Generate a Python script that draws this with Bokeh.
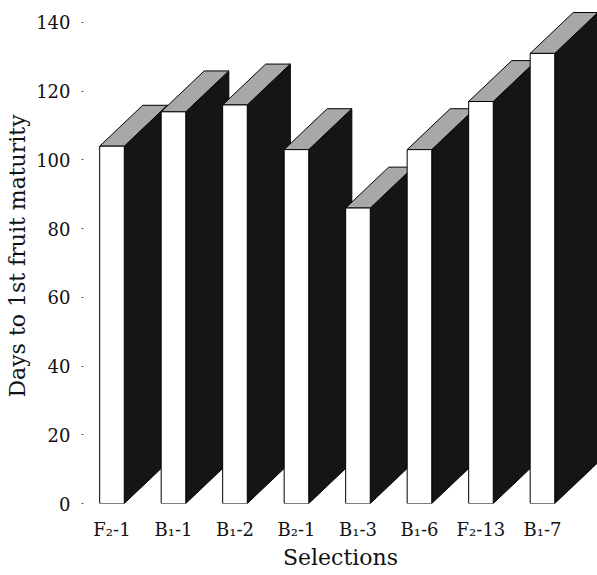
from bokeh.plotting import figure
from bokeh.models import Range1d, FixedTicker, ColumnDataSource
from bokeh.embed import file_html
from bokeh.resources import INLINE

# Days to first fruit maturity for each selection
selections = ["F\u2082-1", "B\u2081-1", "B\u2081-2", "B\u2082-1",
              "B\u2081-3", "B\u2081-6", "F\u2082-13", "B\u2081-7"]
days = [104, 114, 116, 103, 86, 103, 117, 131]
y_ticks = [0, 20, 40, 60, 80, 100, 120, 140]

# pseudo-3D geometry (data units)
half_w = 0.2      # half width of the front face
depth_x = 0.70    # horizontal depth offset
depth_y = 11.9    # vertical depth offset

xs, ys, fills, lines = [], [], [], []
for i, d in enumerate(days):
    l, r = i - half_w, i + half_w
    # side face
    xs.append([r, r + depth_x, r + depth_x, r])
    ys.append([0, depth_y, d + depth_y, d])
    fills.append("#151515")
    lines.append("#000000")
    # top face
    xs.append([l, r, r + depth_x, l + depth_x])
    ys.append([d, d, d + depth_y, d + depth_y])
    fills.append("#a8a8a8")
    lines.append("#000000")
    # front face
    xs.append([l, r, r, l])
    ys.append([0, 0, d, d])
    fills.append("#ffffff")
    lines.append("#000000")

src = ColumnDataSource(dict(xs=xs, ys=ys, fill=fills, line=lines))

p = figure(width=597, height=575, output_backend="svg", toolbar_location=None,
           x_range=Range1d(-0.463, 7.895), y_range=Range1d(0, 144.07),
           min_border_left=83, min_border_right=0, min_border_top=8,
           min_border_bottom=72)
p.patches("xs", "ys", source=src, fill_color="fill", line_color="line",
          line_width=1)

p.outline_line_color = None
p.grid.visible = False
p.background_fill_color = "white"
p.border_fill_color = "white"

serif = "DejaVu Serif"

p.xaxis.ticker = FixedTicker(ticks=list(range(len(selections))))
p.xaxis.major_label_overrides = {i: s for i, s in enumerate(selections)}
p.xaxis.axis_line_color = None
p.xaxis.major_tick_line_color = None
p.xaxis.minor_tick_line_color = None
p.xaxis.major_label_standoff = 9
p.xaxis.major_label_text_font = serif
p.xaxis.major_label_text_font_size = "18px"
p.xaxis.major_label_text_color = "#111111"
p.xaxis.axis_label = "Selections"
p.xaxis.axis_label_text_font = serif
p.xaxis.axis_label_text_font_size = "22px"
p.xaxis.axis_label_text_font_style = "normal"
p.xaxis.axis_label_text_color = "#111111"
p.xaxis.axis_label_standoff = 2

p.yaxis.ticker = FixedTicker(ticks=y_ticks)
p.yaxis.axis_line_color = None
p.yaxis.major_tick_out = 2
p.yaxis.major_tick_in = 0
p.yaxis.major_tick_line_color = "#555555"
p.yaxis.minor_tick_line_color = None
p.yaxis.major_label_standoff = 11
p.yaxis.major_label_text_font = serif
p.yaxis.major_label_text_font_size = "18px"
p.yaxis.major_label_text_color = "#111111"
p.yaxis.axis_label = "Days to 1st fruit maturity"
p.yaxis.axis_label_text_font = serif
p.yaxis.axis_label_text_font_size = "22px"
p.yaxis.axis_label_text_font_style = "normal"
p.yaxis.axis_label_text_color = "#111111"
p.yaxis.axis_label_standoff = 3

open("out.html", "w").write(file_html(p, INLINE))
